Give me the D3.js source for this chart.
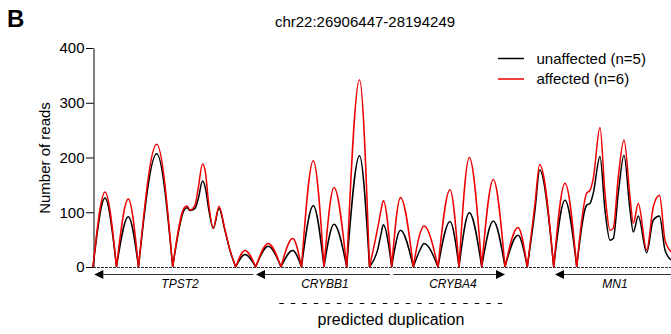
<!DOCTYPE html>
<html>
<head>
<meta charset="utf-8">
<script src="https://cdn.jsdelivr.net/npm/d3@7"></script>
<style>
  body { margin: 0; background: #fff; }
  text { font-family: 'Liberation Sans', Arial, sans-serif; fill: #000; }
</style>
</head>
<body>
<div id="chart"></div>
<script>
// read coverage, position in bins from the left edge of the window
const binPos = [0, 12, 23.5, 35.3, 45.5, 63.7, 79.7, 91.5, 94, 97, 102, 105.3, 109.5, 112.5, 115.3, 120.3,
  126, 132, 137, 142.7, 152, 162.7, 175.3, 188, 199.7, 208.5, 220.3, 231, 241, 253.7, 266.5, 276.5,
  285, 288, 290.3, 298.7, 307.5, 320.3, 327, 331, 345, 357, 366, 376.3, 388.7, 400.3, 412, 425,
  434.3, 442, 446.7, 460.7, 472, 483.7, 493.7, 497, 500.3, 507, 512, 517, 520.3, 525.3, 531, 537,
  540.3, 545.3, 553.7, 560.3, 566.5, 572, 578];
const unaffected = [0, 126, 0, 92, 0, 207, 0, 105, 108, 103, 107, 125, 157, 143, 110, 71,
  107, 66, 30, 0, 23, 0, 38, 0, 30, 0, 112, 0, 78, 0, 203, 0,
  34, 60, 77, 0, 67, 0, 31, 43, 0, 83, 0, 99, 0, 84, 0, 58,
  0, 104, 177, 0, 122, 0, 113, 116, 135, 202, 104, 49, 52, 135, 204, 104,
  64, 93, 26, 86, 93, 31, 13];
const affected = [0, 137, 0, 124, 0, 224, 0, 109, 111.5, 104, 113, 145, 188, 172, 122, 71,
  111, 68, 31, 0, 30, 0, 43, 0, 52, 0, 194, 0, 145, 0, 342, 0,
  74, 104, 121, 0, 127, 0, 61, 75, 0, 141, 0, 200, 0, 160, 0, 72,
  0, 116, 187, 0, 153, 0, 135, 140, 162, 255, 135, 67, 71, 165, 232, 128,
  80, 116, 31, 110, 131, 49, 28];
const yTicks = [0, 100, 200, 300, 400];

const geneNames = ['TPST2', 'CRYBB1', 'CRYBA4', 'MN1'];
const geneStart = [1.3, 163, 300.3, 462];
const geneEnd = [160.3, 297, 412, 578];
const geneStrand = ['-', '-', '+', '-'];
const geneLabelPos = [87, 232, 360, 522];
const dupRange = [186.3, 409.7];

const width = 671, height = 334;

const svg = d3.select('#chart')
  .append('svg')
  .attr('width', width)
  .attr('height', height);

const x = d3.scaleLinear().domain([0, 578]).range([93, 671]);
const y = d3.scaleLinear().domain([0, 400]).range([267, 48]);

// panel letter + title
svg.append('text')
  .attr('x', 7)
  .attr('y', 27)
  .style('font-size', '24px')
  .style('font-weight', 'bold')
  .text('B');

svg.append('text')
  .attr('x', 365)
  .attr('y', 27)
  .attr('text-anchor', 'middle')
  .style('font-size', '15px')
  .text('chr22:26906447-28194249');

// y axis
const yAxis = d3.axisLeft(y).tickValues(yTicks).tickSize(7.5).tickSizeOuter(0).tickPadding(1.5);
const yAxisG = svg.append('g')
  .attr('transform', 'translate(93.5,0)')
  .call(yAxis);
yAxisG.selectAll('text').style('font-size', '15px').attr('fill', '#000');
yAxisG.selectAll('line, path').attr('stroke', '#000');

svg.append('text')
  .attr('transform', 'translate(50,158) rotate(-90)')
  .attr('text-anchor', 'middle')
  .style('font-size', '15px')
  .text('Number of reads');

// zero baseline
svg.append('line')
  .attr('x1', x(0))
  .attr('x2', x(578))
  .attr('y1', y(0) + 0.5)
  .attr('y2', y(0) + 0.5)
  .attr('stroke', '#333')
  .attr('stroke-dasharray', '3,1');

// coverage curves: one monotone piece per bump so that the troughs stay sharp
function bumps(vals) {
  const segs = [];
  let cur = [];
  binPos.forEach((p, i) => {
    cur.push([p, vals[i]]);
    if (vals[i] === 0 && cur.length > 1) {
      segs.push(cur);
      cur = [[p, 0]];
    }
  });
  if (cur.length > 1) segs.push(cur);
  return segs;
}

const line = d3.line()
  .x((d) => x(d[0]))
  .y((d) => y(d[1]))
  .curve(d3.curveMonotoneX);

const series = [
  { name: 'unaffected (n=5)', vals: unaffected, color: '#000' },
  { name: 'affected (n=6)', vals: affected, color: '#ee0000' },
];

series.forEach((s) => {
  svg.append('path')
    .attr('d', bumps(s.vals).map((seg) => line(seg)).join(''))
    .attr('fill', 'none')
    .attr('stroke', s.color)
    .attr('stroke-width', 1.5)
    .attr('stroke-linejoin', 'round');
});

// legend
series.forEach((s, i) => {
  const ly = 58.5 + i * 20.5;
  svg.append('line')
    .attr('x1', 498)
    .attr('x2', 524)
    .attr('y1', ly)
    .attr('y2', ly)
    .attr('stroke', s.color)
    .attr('stroke-width', 1.5);
  svg.append('text')
    .attr('x', 536.5)
    .attr('y', ly + 5.3)
    .style('font-size', '15px')
    .text(s.name);
});

// gene track
const geneY = 274.5;
geneNames.forEach((g, i) => {
  const x0 = x(geneStart[i]);
  const x1 = Math.min(x(geneEnd[i]), width);
  const tip = geneStrand[i] === '-' ? x0 : x1;
  const back = geneStrand[i] === '-' ? tip + 9 : tip - 9;
  svg.append('line')
    .attr('x1', geneStrand[i] === '-' ? back : x0)
    .attr('x2', geneStrand[i] === '-' ? x1 : back)
    .attr('y1', geneY)
    .attr('y2', geneY)
    .attr('stroke', '#333')
    .attr('stroke-width', 1.2);
  svg.append('path')
    .attr('d', 'M' + tip + ',' + geneY + 'L' + back + ',' + (geneY - 4.5) + 'L' + back + ',' + (geneY + 4.5) + 'Z')
    .attr('fill', '#000');
  svg.append('text')
    .attr('x', x(geneLabelPos[i]))
    .attr('y', 287.5)
    .attr('text-anchor', 'middle')
    .style('font-size', '12px')
    .style('font-style', 'italic')
    .text(g);
});

// predicted duplication
svg.append('line')
  .attr('x1', x(dupRange[0]))
  .attr('x2', x(dupRange[1]))
  .attr('y1', 303.5)
  .attr('y2', 303.5)
  .attr('stroke', '#000')
  .attr('stroke-dasharray', '4.5,7');

svg.append('text')
  .attr('x', x((dupRange[0] + dupRange[1]) / 2))
  .attr('y', 325)
  .attr('text-anchor', 'middle')
  .style('font-size', '16px')
  .text('predicted duplication');
</script>
</body>
</html>
